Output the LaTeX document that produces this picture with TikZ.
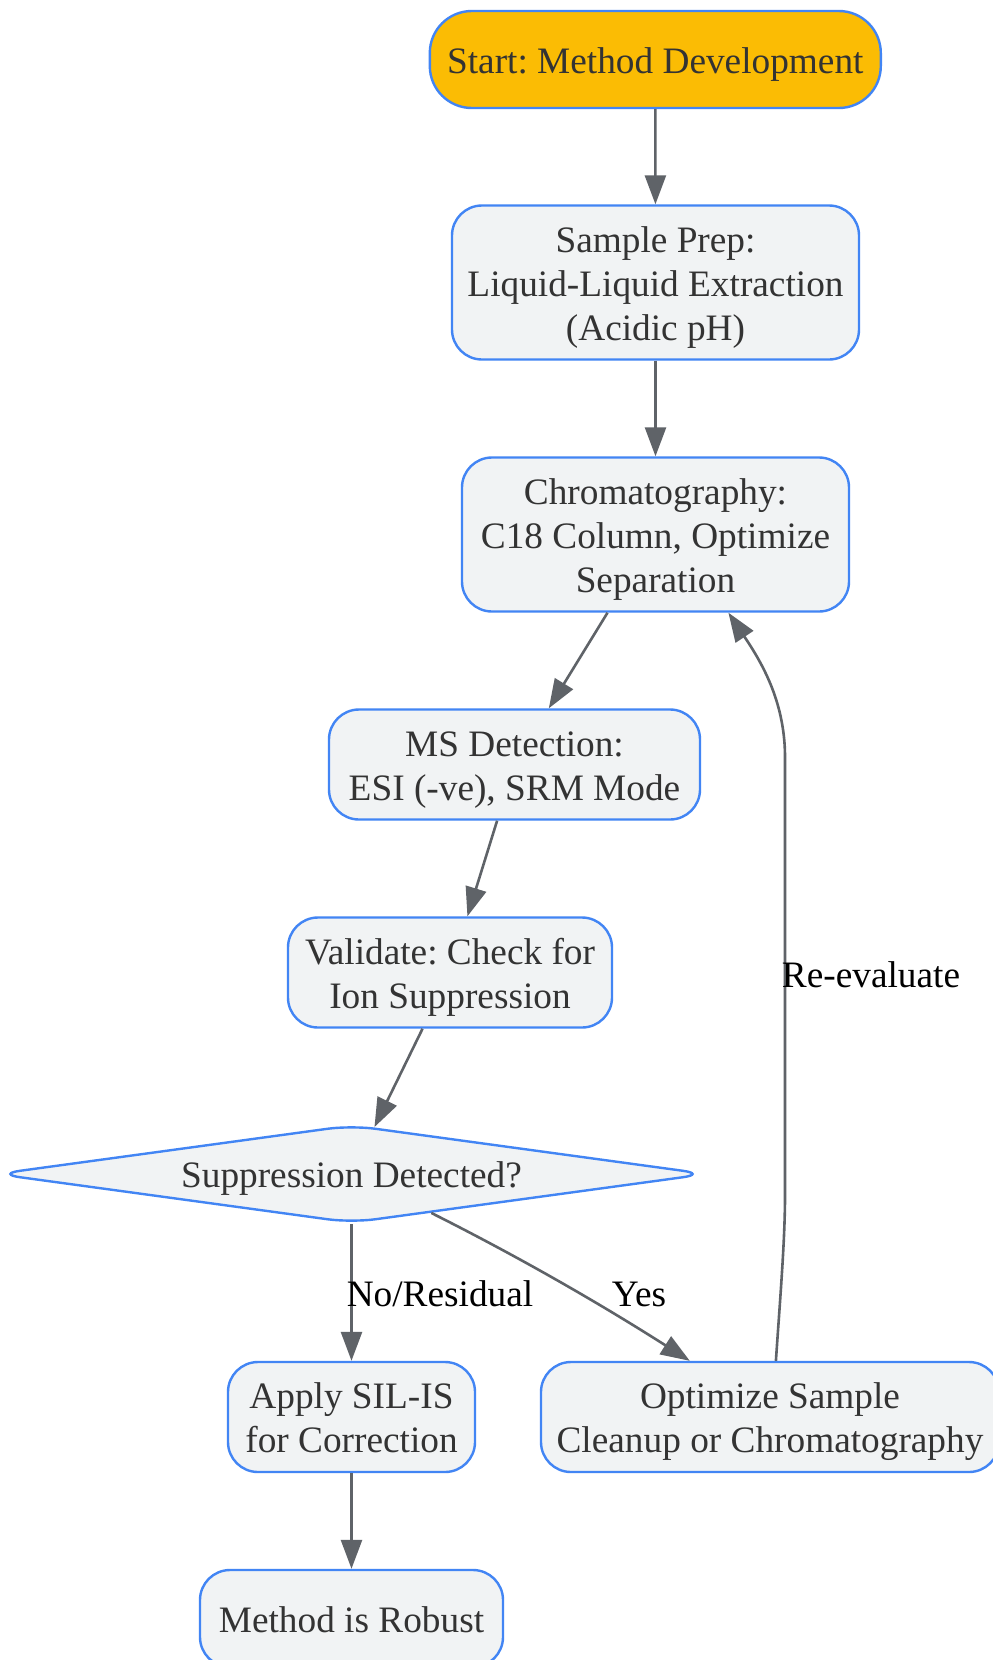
\documentclass[tikz,border=0pt]{standalone}
\usepackage{fontspec}
\setmainfont{Liberation Serif}
\frenchspacing
\usetikzlibrary{shapes.geometric, arrows.meta}

\definecolor{boxfill}{HTML}{F1F3F4}
\definecolor{boxline}{HTML}{4285F4}
\definecolor{startfill}{HTML}{FBBC04}
\definecolor{edgegray}{HTML}{5F6368}
\definecolor{textgray}{HTML}{333333}
\newcommand{\flowfont}{\fontsize{37.3}{44}\selectfont}

\tikzset{
	oneline/.style={text height=36pt, text depth=9pt},
	twolines/.style={text height=80pt, text depth=9pt},
	threelines/.style={text height=124pt, text depth=9pt},
	box/.style={draw=boxline, fill=boxfill, line width=2.4pt, rounded corners=30pt, align=center, text=textgray, font=\flowfont, inner sep=0pt},
	startbox/.style={box, fill=startfill, rounded corners=42pt},
	decision/.style={diamond, draw=boxline, fill=boxfill, line width=2.4pt, rounded corners=24pt, aspect=7.4, inner sep=0pt, text=textgray, font=\flowfont, oneline},
	flow/.style={draw=edgegray, line width=2.6pt, -{Triangle[length=29pt,width=21pt]}},
	edgelabel/.style={font=\flowfont, text=black, inner sep=0pt},
}

\begin{document}
\begin{tikzpicture}[x=1pt,y=-1pt]%坐标按像素

	\fill [white] (0,0) rectangle (993,1660);%背景
	\useasboundingbox (0,0) rectangle (993,1660);

	\node [startbox, oneline, minimum width=451, minimum height=97] (start) at (655.3,59.5) {Start: Method Development};%起点
	\node [box, threelines, minimum width=407, minimum height=154] (prep) at (655.5,282.5) {Sample Prep:\\Liquid-Liquid Extraction\\(Acidic pH)};%样品前处理
	\node [box, threelines, minimum width=387, minimum height=154] (chrom) at (655.5,534.5) {Chromatography:\\C18 Column, Optimize\\Separation};%色谱
	\node [box, twolines, minimum width=371, minimum height=110] (ms) at (514.5,764.5) {MS Detection:\\ESI (-ve), SRM Mode};%质谱
	\node [box, twolines, minimum width=324, minimum height=110] (check) at (450,972.5) {Validate: Check for\\Ion Suppression};%验证
	\node [decision, minimum width=711, minimum height=98] (suppr) at (351.5,1174) {Suppression Detected?};%判断
	\node [box, twolines, minimum width=247, minimum height=110] (silis) at (351.5,1417) {Apply SIL-IS\\for Correction};%内标校正
	\node [box, twolines, minimum width=458, minimum height=110] (cleanup) at (770,1417) {Optimize Sample\\Cleanup or Chromatography};%优化
	\node [box, oneline, minimum width=303, minimum height=97] (robust) at (351.5,1618.5) {Method is Robust};%结论

	\draw [flow] (start) -- (prep);
	\draw [flow] (prep) -- (chrom);
	\draw [flow] (chrom) -- (ms);
	\draw [flow] (ms) -- (check);
	\draw [flow] (check) -- (suppr);
	\draw [flow] (suppr) -- (silis);
	\draw [flow] (suppr.-26) .. controls (529,1262) and (610,1310) .. (cleanup.145.5);%是
	\draw [flow] (silis) -- (robust);
	\draw [flow] (cleanup.84) .. controls (780,1300) and (785,1240) .. (785,1196) -- (785,757) .. controls (785,700) and (760,660) .. (chrom.-47);%返回

	\node [edgelabel] (lno) at (440,1294) {No/Residual};
	\node [edgelabel] (lyes) at (639,1294) {Yes};
	\node [edgelabel] (lback) at (871,975) {Re-evaluate};
\end{tikzpicture}
\end{document}
